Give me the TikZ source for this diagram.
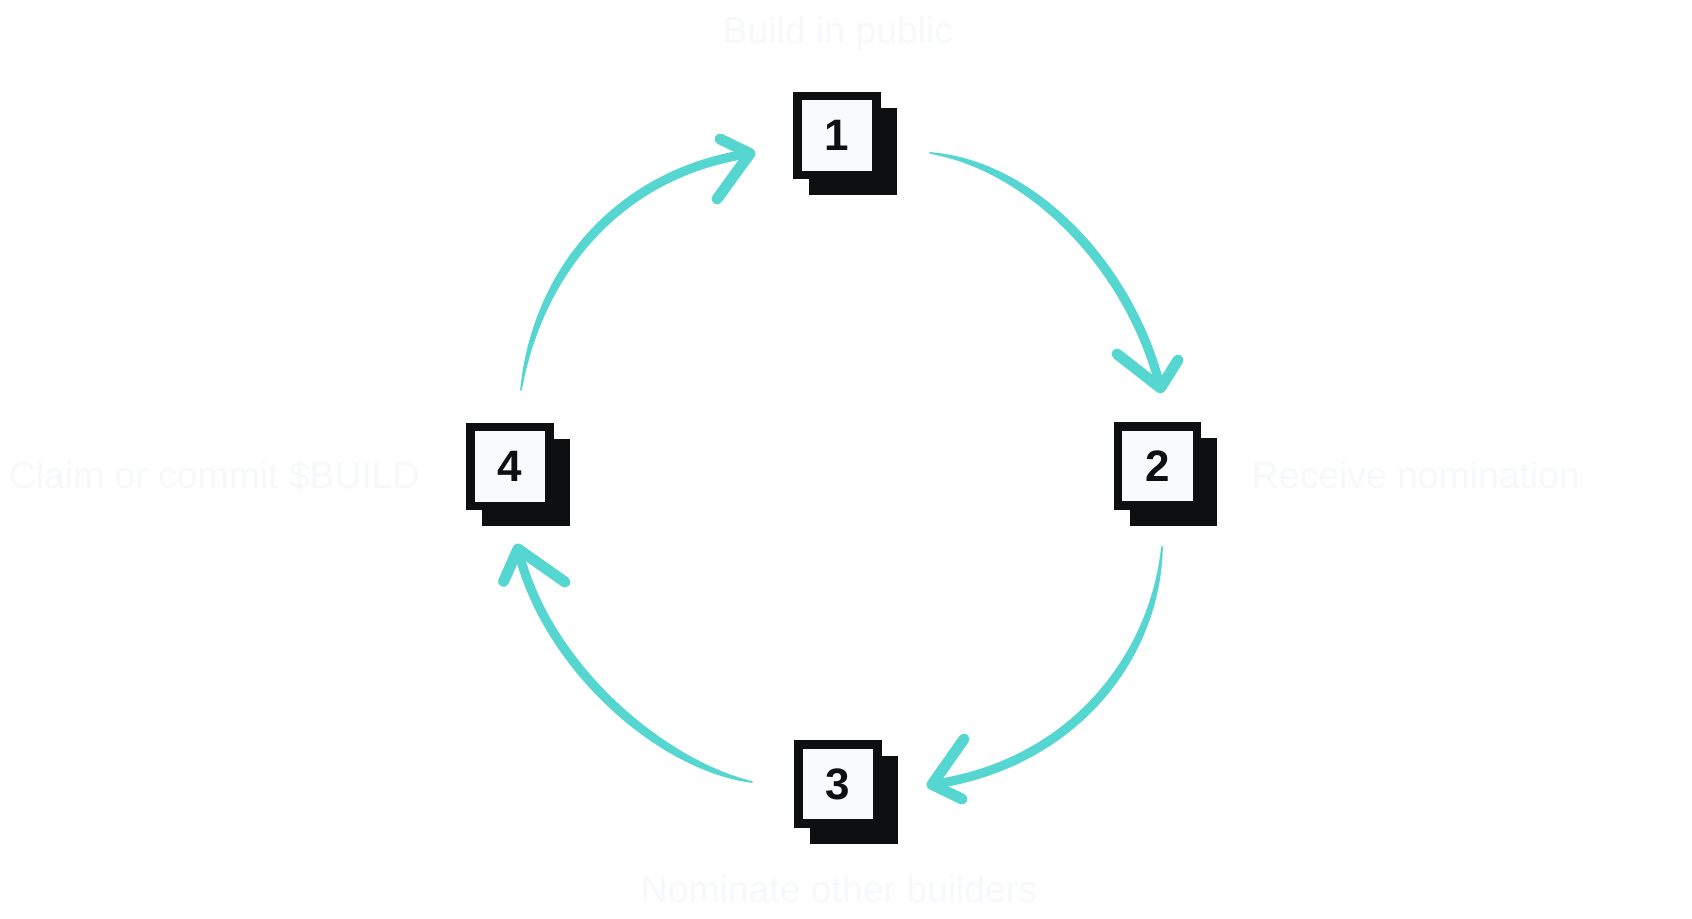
\documentclass[tikz,border=0pt]{standalone}
\usepackage{fontspec}
\setmainfont{Liberation Sans}
\usetikzlibrary{calc,backgrounds}
\definecolor{ink}{HTML}{0E0F11}
\definecolor{paper}{HTML}{F8FAFC}
\definecolor{aqua}{HTML}{55D6D0}
\definecolor{faint}{HTML}{F6F8FB}
% tapered shaft: #1 start, #2 #3 controls, #4 end (tip)
\newcommand{\loopshaft}[4]{%
  \fill[aqua, draw=aqua, line width=1.3pt, line join=round, line cap=round]
    (#1) .. controls ($(#2)!4.4pt!90:(#3)$) and ($(#3)!2.8pt!90:(#4)$) .. ($(#4)!2.8pt!-90:(#3)$)
    -- ($(#4)!2.8pt!90:(#3)$) .. controls ($(#3)!2.8pt!-90:(#4)$) and ($(#2)!4.4pt!-90:(#3)$) .. (#1) -- cycle;}
\tikzset{
  numbox/.style={draw=ink, fill=paper, line width=6.375pt, minimum size=59.6pt,
    inner sep=0pt, font=\fontsize{33}{38}\selectfont\bfseries, text=ink},
  lbl/.style={font=\fontsize{28}{34}\selectfont, text=faint, inner sep=0pt},
  headstroke/.style={draw=aqua, line width=8.2pt, line cap=round, line join=round}
}
\begin{document}
\begin{tikzpicture}[x=0.75pt,y=-0.75pt]
\useasboundingbox (0,0) rectangle (1692,918);
% step boxes
\node[numbox] (n1) at (837,135.5) {1};
\node[numbox] (n2) at (1157.5,466) {2};
\node[numbox] (n3) at (838,784) {3};
\node[numbox] (n4) at (510,466.5) {4};
% shadows
\begin{scope}[on background layer]
  \fill[white] (0,0) rectangle (1692,918);
  \foreach \n in {n1,n2,n3,n4}
    \fill[ink] ([shift={(16,16)}]\n.south west) rectangle ([shift={(16,16)}]\n.north east);
\end{scope}
% labels
\node[lbl, anchor=base] (l1) at (838,43.3) {Build in public};
\node[lbl, anchor=base west] (l2) at (1251.7,488.3) {Receive nomination};
\node[lbl, anchor=base] (l3) at (839,902.7) {Nominate other builders};
\node[lbl, anchor=base east] (l4) at (420,488.3) {Claim or commit \$BUILD};
% arrow end points
\coordinate (as) at ($(n4)+(11,-76.5)$);
\coordinate (at) at ($(n1)+(-87,18)$);
\coordinate (bs) at ($(n1)+(93,17.5)$);
\coordinate (bt) at ($(n2)+(3,-78)$);
\coordinate (cs) at ($(n2)+(4.5,81)$);
\coordinate (ct) at ($(n3)+(94,0.5)$);
\coordinate (ds) at ($(n3)+(-86,-2)$);
\coordinate (dt) at ($(n4)+(8,82.5)$);
% arrow 4 -> 1
\loopshaft{as}{538,268}{622,172}{at}
\draw[headstroke] (720,139) -- (at) -- (717,199);
% arrow 1 -> 2
\loopshaft{bs}{1030,165}{1130,265}{bt}
\draw[headstroke] (1117,354) -- (bt) -- (1178,360);
% arrow 2 -> 3
\loopshaft{cs}{1155,660}{1070,765}{ct}
\draw[headstroke] (964,739) -- (ct) -- (962,799);
% arrow 3 -> 4
\loopshaft{ds}{660,765}{545,665}{dt}
\draw[headstroke] (503.5,581.5) -- (dt) -- (565,582);
\end{tikzpicture}
\end{document}
